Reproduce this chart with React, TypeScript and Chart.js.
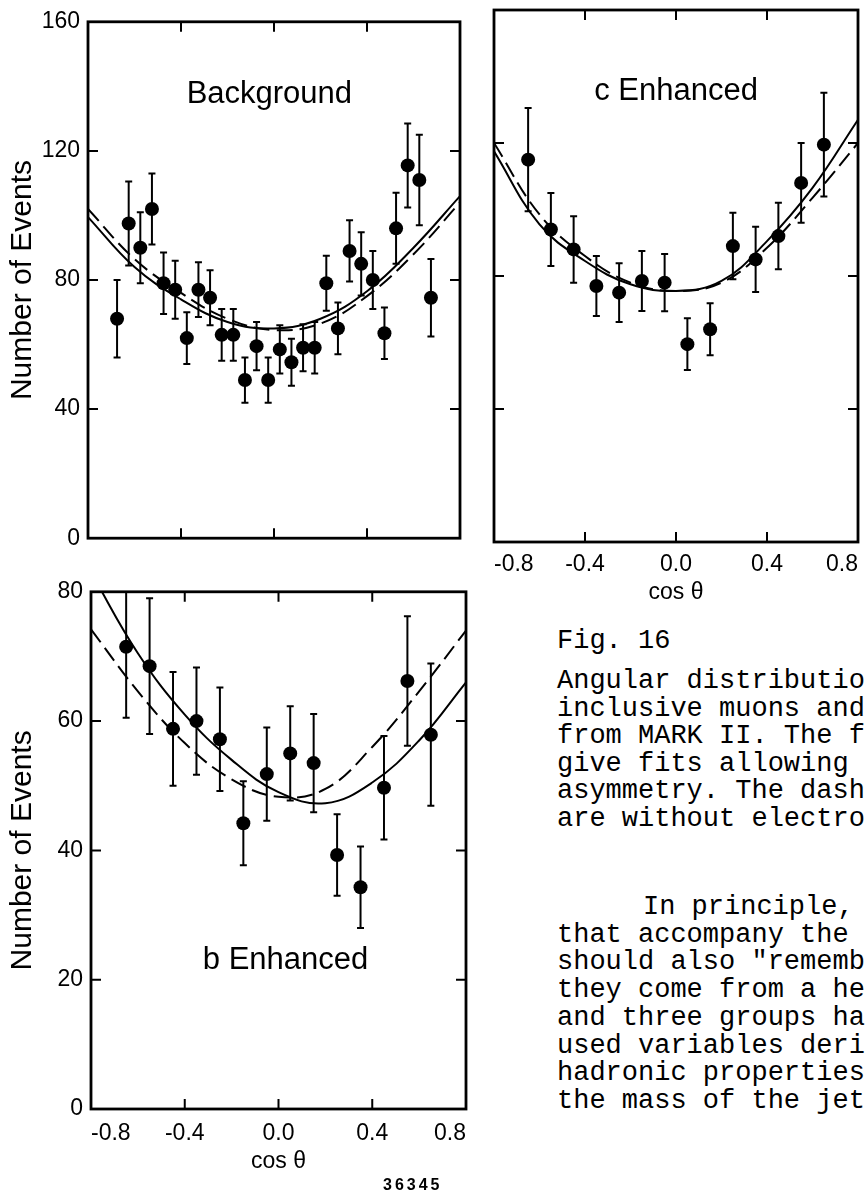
import React, { useEffect, useRef } from 'react';
import { Chart, registerables } from 'chart.js';

Chart.register(...registerables);

// ---------------- data ----------------
const X_TICKS = [-0.8, -0.4, 0, 0.4, 0.8];
const Y_TICKS_160 = [0, 40, 80, 120, 160];
const Y_TICKS_80 = [0, 20, 40, 60, 80];

// Background panel
const BG_X = [-0.675, -0.625, -0.575, -0.525, -0.475, -0.425, -0.375, -0.325, -0.275, -0.225, -0.175, -0.125, -0.075, -0.025,
  0.025, 0.075, 0.125, 0.175, 0.225, 0.275, 0.325, 0.375, 0.425, 0.475, 0.525, 0.575, 0.625, 0.675];
const BG_Y = [68, 97.5, 90, 102, 79, 77, 62, 77, 74.5, 63, 63, 49, 59.5, 49,
  58.5, 54.5, 59, 59, 79, 65, 89, 85, 80, 63.5, 96, 115.5, 111, 74.5];
const BG_ERR = [12, 13, 11, 11, 9.5, 9, 8, 8.5, 8.5, 8, 8, 7, 7.5, 7,
  7.5, 7.3, 7.3, 8, 8.5, 8, 9.5, 9.8, 9, 8, 11, 13, 14, 12];

// c Enhanced panel
const C_X = [-0.65, -0.55, -0.45, -0.35, -0.25, -0.15, -0.05, 0.05, 0.15, 0.25, 0.35, 0.45, 0.55, 0.65];
const C_Y = [115, 94, 88, 77, 75, 78.5, 78, 59.5, 64, 89, 85, 92, 108, 119.5];
const C_ERR = [15.5, 11, 10, 9, 8.8, 9, 8.6, 7.8, 7.8, 10, 9.8, 10, 12, 15.6];

// b Enhanced panel
const B_X = [-0.65, -0.55, -0.45, -0.35, -0.25, -0.15, -0.05, 0.05, 0.15, 0.25, 0.35, 0.45, 0.55, 0.65];
const B_Y = [71.5, 68.5, 58.8, 60, 57.2, 44.2, 51.8, 55, 53.5, 39.3, 34.3, 49.7, 66.2, 57.9];
const B_ERR = [11, 10.5, 8.8, 8.3, 8, 6.5, 7.2, 7.3, 7.6, 6.3, 6.3, 8, 10, 11];

// fit curves (at these cos θ values)
const CURVE_X = [-0.8, -0.6, -0.4, -0.2, 0, 0.2, 0.4, 0.6, 0.8];
const BG_SOLID = [99.5, 84, 74, 67, 65, 68, 76.5, 90, 106];
const BG_DASHED = [102, 86.5, 76, 68, 64.5, 66.5, 75, 88, 104];
const C_SOLID = [117.5, 95.5, 84.5, 77.5, 75.5, 78.5, 90.5, 106.5, 127];
const C_DASHED = [120, 98.5, 86, 78, 75.5, 78, 88.5, 103.5, 120];
const B_SOLID = [83, 70.5, 61, 54, 49, 47.3, 50.5, 57, 66];
const B_DASHED = [74.2, 64.6, 56.6, 51, 48.3, 49.5, 56, 64.6, 74];

const CAPTION_LINES = [
  'Angular distributio',
  'inclusive muons and',
  'from MARK II. The f',
  'give fits allowing',
  'asymmetry. The dash',
  'are without electro',
];
const PARAGRAPH_LINES = [
  'In principle,',
  'that accompany the',
  'should also "rememb',
  'they come from a he',
  'and three groups ha',
  'used variables deri',
  'hadronic properties',
  'the mass of the jet',
];

// ---------------- styling ----------------
const SANS = '"Liberation Sans", Arial, Helvetica, sans-serif';
const MONO = '"Liberation Mono", "DejaVu Sans Mono", monospace';

const framePlugin = {
  id: 'frame',
  beforeDatasetsDraw(chart: any) {
    const { ctx, chartArea, scales } = chart;
    const xs = scales.x, ys = scales.y;
    ctx.save();
    ctx.beginPath();
    ctx.rect(chartArea.left, chartArea.top, chartArea.right - chartArea.left, chartArea.bottom - chartArea.top);
    ctx.clip();
    ctx.strokeStyle = '#000';
    ctx.lineWidth = 2;
    chart.data.datasets.forEach((ds: any) => {
      if (!ds.errors) return;
      ds.data.forEach((p: any, i: number) => {
        const e = ds.errors[i];
        const px = xs.getPixelForValue(p.x);
        const t = ys.getPixelForValue(p.y + e);
        const b = ys.getPixelForValue(p.y - e);
        ctx.beginPath();
        ctx.moveTo(px, t); ctx.lineTo(px, b);
        ctx.moveTo(px - 3.5, t); ctx.lineTo(px + 3.5, t);
        ctx.moveTo(px - 3.5, b); ctx.lineTo(px + 3.5, b);
        ctx.stroke();
      });
    });
    ctx.restore();
  },
  afterDraw(chart: any, _args: any, opts: any) {
    const { ctx, chartArea, scales } = chart;
    const xs = scales.x, ys = scales.y;
    const { left, right, top, bottom } = chartArea;
    const tl = opts.tickLen || 10;
    ctx.save();
    ctx.strokeStyle = '#000';
    ctx.lineWidth = 2.8;
    ctx.strokeRect(left, top, right - left, bottom - top);
    ctx.lineWidth = 2;
    ctx.beginPath();
    (opts.xTicks || []).forEach((v: number) => {
      if (v <= xs.min || v >= xs.max) return;
      const px = xs.getPixelForValue(v);
      ctx.moveTo(px, bottom); ctx.lineTo(px, bottom - tl);
      ctx.moveTo(px, top); ctx.lineTo(px, top + tl);
    });
    (opts.yTicks || []).forEach((v: number) => {
      if (v <= ys.min || v >= ys.max) return;
      const py = ys.getPixelForValue(v);
      ctx.moveTo(left, py); ctx.lineTo(left + tl, py);
      ctx.moveTo(right, py); ctx.lineTo(right - tl, py);
    });
    ctx.stroke();
    if (opts.label) {
      ctx.fillStyle = '#000';
      ctx.font = `31px ${SANS}`;
      ctx.textAlign = 'center';
      ctx.textBaseline = 'middle';
      ctx.fillText(opts.label.text, xs.getPixelForValue(opts.label.x), ys.getPixelForValue(opts.label.y));
    }
    ctx.restore();
  },
};

type PanelSpec = {
  box: { x: number; y: number; w: number; h: number };
  padding: { top: number; right: number; bottom: number; left: number };
  yWidth: number;
  xHeight: number;
  yMax: number;
  yTicks: number[];
  showY: boolean;
  showX: boolean;
  xLabelPad: number;
  xs: number[];
  ys: number[];
  errs: number[];
  solid: number[];
  dashed: number[];
  label: { text: string; x: number; y: number };
};

function buildConfig(p: PanelSpec): any {
  const pts = p.xs.map((x, i) => ({ x, y: p.ys[i] }));
  const solid = CURVE_X.map((x, i) => ({ x, y: p.solid[i] }));
  const dashed = CURVE_X.map((x, i) => ({ x, y: p.dashed[i] }));
  return {
    type: 'scatter',
    data: {
      datasets: [
        { data: solid, showLine: true, borderColor: '#000', borderWidth: 2, pointRadius: 0, tension: 0.4, fill: false },
        { data: dashed, showLine: true, borderColor: '#000', borderWidth: 2, borderDash: [16, 7], pointRadius: 0, tension: 0.4, fill: false },
        { data: pts, errors: p.errs, pointRadius: 7, backgroundColor: '#000', borderColor: '#000', borderWidth: 0, showLine: false },
      ],
    },
    options: {
      animation: false,
      responsive: false,
      maintainAspectRatio: false,
      events: [],
      layout: { padding: p.padding },
      plugins: {
        legend: { display: false },
        tooltip: { enabled: false },
        frame: { xTicks: X_TICKS, yTicks: p.yTicks, tickLen: 10, label: p.label },
      },
      scales: {
        x: {
          type: 'linear',
          min: -0.8,
          max: 0.8,
          afterBuildTicks: (s: any) => { s.ticks = X_TICKS.map((v) => ({ value: v })); },
          afterFit: (s: any) => { s.height = p.xHeight; },
          grid: { display: false, drawTicks: false },
          border: { display: false },
          ticks: {
            display: p.showX,
            align: 'inner',
            padding: p.xLabelPad,
            color: '#000',
            font: { family: SANS, size: 23 },
            callback: (v: any) => Number(v).toFixed(1),
          },
          title: { display: p.showX, text: 'cos θ', color: '#000', font: { family: SANS, size: 23 }, padding: 0 },
        },
        y: {
          type: 'linear',
          min: 0,
          max: p.yMax,
          afterBuildTicks: (s: any) => { s.ticks = p.yTicks.map((v) => ({ value: v })); },
          afterFit: (s: any) => { s.width = p.yWidth; },
          grid: { display: false, drawTicks: false },
          border: { display: false },
          ticks: { display: p.showY, padding: 8, color: '#000', font: { family: SANS, size: 23 } },
          title: { display: p.showY, text: 'Number of Events', color: '#000', font: { family: SANS, size: 30 }, padding: { top: 5, bottom: 0 } },
        },
      },
    },
    plugins: [framePlugin],
  };
}

const PANELS: PanelSpec[] = [
  {
    box: { x: 0, y: 0, w: 480, h: 560 },
    padding: { top: 11, right: 20, bottom: 0, left: 0 },
    yWidth: 88, xHeight: 17, yMax: 160, yTicks: Y_TICKS_160, showY: true, showX: false, xLabelPad: 0,
    xs: BG_X, ys: BG_Y, errs: BG_ERR, solid: BG_SOLID, dashed: BG_DASHED,
    label: { text: 'Background', x: -0.02, y: 137.5 },
  },
  {
    box: { x: 470, y: 0, w: 397, h: 620 },
    padding: { top: 10, right: 6, bottom: 14, left: 0 },
    yWidth: 24, xHeight: 64, yMax: 160, yTicks: Y_TICKS_160, showY: false, showX: true, xLabelPad: 9,
    xs: C_X, ys: C_Y, errs: C_ERR, solid: C_SOLID, dashed: C_DASHED,
    label: { text: 'c Enhanced', x: 0.0, y: 135.5 },
  },
  {
    box: { x: 0, y: 570, w: 480, h: 610 },
    padding: { top: 18, right: 14, bottom: 5, left: 0 },
    yWidth: 91, xHeight: 66, yMax: 80, yTicks: Y_TICKS_80, showY: true, showX: true, xLabelPad: 11,
    xs: B_X, ys: B_Y, errs: B_ERR, solid: B_SOLID, dashed: B_DASHED,
    label: { text: 'b Enhanced', x: 0.03, y: 23 },
  },
];

function Panel({ spec }: { spec: PanelSpec }) {
  const ref = useRef<HTMLCanvasElement | null>(null);
  useEffect(() => {
    if (!ref.current) return;
    const chart = new Chart(ref.current, buildConfig(spec));
    return () => chart.destroy();
  }, [spec]);
  const { x, y, w, h } = spec.box;
  return (
    <canvas
      ref={ref}
      width={w}
      height={h}
      style={{ position: 'absolute', left: x, top: y, width: w, height: h }}
    />
  );
}

const monoLine: React.CSSProperties = {
  position: 'absolute',
  fontFamily: MONO,
  fontSize: 27,
  lineHeight: '28px',
  whiteSpace: 'pre',
  color: '#000',
};

export default function App() {
  return (
    <div
      style={{
        position: 'absolute',
        left: 0,
        top: 0,
        width: 867,
        height: 1200,
        overflow: 'hidden',
        background: '#fff',
      }}
    >
      {PANELS.map((s, i) => (
        <Panel key={i} spec={s} />
      ))}
      <div style={{ ...monoLine, left: 557, top: 627 }}>Fig. 16</div>
      {CAPTION_LINES.map((t, i) => (
        <div key={'c' + i} style={{ ...monoLine, left: 557, top: 667 + i * 27.5 }}>{t}</div>
      ))}
      {PARAGRAPH_LINES.map((t, i) => (
        <div key={'p' + i} style={{ ...monoLine, left: i === 0 ? 643 : 557, top: 893 + i * 27.7 }}>{t}</div>
      ))}
      <div
        style={{
          position: 'absolute',
          left: 383,
          top: 1176,
          fontFamily: SANS,
          fontWeight: 'bold',
          fontSize: 16,
          letterSpacing: 3,
          color: '#000',
        }}
      >
        36345
      </div>
    </div>
  );
}
